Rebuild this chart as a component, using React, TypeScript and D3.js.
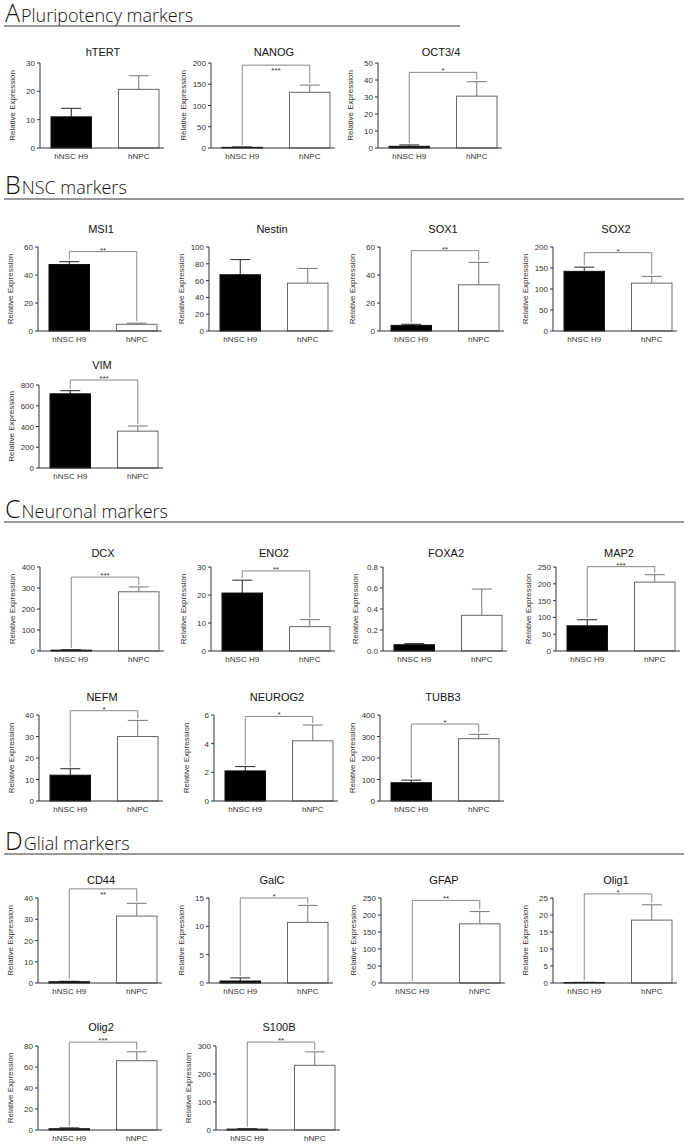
import React from "react";
import * as d3 from "d3";

// ---------- data ----------
const groups = ["hNSC H9", "hNPC"];
const markers = ["hTERT", "NANOG", "OCT3/4", "MSI1", "Nestin", "SOX1", "SOX2", "VIM", "DCX", "ENO2", "FOXA2", "MAP2", "NEFM", "NEUROG2", "TUBB3", "CD44", "GalC", "GFAP", "Olig1", "Olig2", "S100B"];
const meanNSC = [11, 1.5, 1.0, 47.5, 67, 4, 142, 715, 4, 20.7, 0.06, 75, 12, 2.1, 85, 0.6, 0.35, 0, 0.15, 1.2, 3];
const errTopNSC = [14, 2.5, 1.8, 49.5, 85, 4.8, 152, 745, 6, 25.3, 0.07, 93, 15, 2.4, 97, 0.8, 0.9, 0, 0.2, 2, 4.5];
const meanNPC = [20.7, 131, 30.5, 4.8, 57, 33, 114, 355, 282, 8.7, 0.34, 205, 30, 4.2, 290, 31.5, 10.7, 174, 18.5, 66, 231];
const errTopNPC = [25.5, 148, 39, 5.6, 74.5, 49, 130, 405, 305, 11.2, 0.59, 227, 37.5, 5.3, 310, 37.5, 13.7, 210, 23, 74.5, 279];
const yMax = [30, 200, 50, 60, 100, 60, 200, 800, 400, 30, 0.8, 250, 40, 6, 400, 40, 15, 250, 25, 80, 300];
const yStep = [10, 50, 10, 20, 20, 20, 50, 200, 100, 10, 0.2, 50, 10, 2, 100, 10, 5, 50, 5, 20, 100];
const sigLabel = ["", "***", "*", "**", "", "**", "*", "***", "***", "**", "", "***", "*", "*", "*", "**", "*", "**", "*", "***", "**"];
const sigAt = [0, 195, 44.5, 56.7, 0, 57.4, 186.5, 848, 352, 28.6, 0, 251, 42, 5.9, 358, 44.3, 15, 243, 26.2, 83.7, 314];
const sectionLetters = ["A", "B", "C", "D"];
const sectionTitles = ["Pluripotency markers", "NSC markers", "Neuronal markers", "Glial markers"];
const yAxisTitle = "Relative Expression";

// ---------- layout ----------
const rows = [
  { title: 56, top: 63, bottom: 148 },
  { title: 233, top: 247, bottom: 331 },
  { title: 369, top: 385, bottom: 468 },
  { title: 557, top: 567, bottom: 651 },
  { title: 701, top: 715, bottom: 801 },
  { title: 884, top: 898, bottom: 983 },
  { title: 1031, top: 1046, bottom: 1130 },
];
const panelRow = [0, 0, 0, 1, 1, 1, 1, 2, 3, 3, 3, 3, 4, 4, 4, 5, 5, 5, 5, 6, 6];
const panelX = [40, 211, 378, 38, 209, 380, 553, 39, 40, 211, 383, 556, 39, 214, 380, 38, 209, 381, 553, 38, 216];
const starsBelow = [false, true, false, false, false, false, false, false, false, false, false, false, false, false, false, true, false, false, false, false, false];
const headings = [
  { base: 22, line: 26, lineEnd: 460 },
  { base: 194, line: 199, lineEnd: 684 },
  { base: 518, line: 522, lineEnd: 684 },
  { base: 850, line: 854, lineEnd: 684 },
];

const AXW = 124;
const CAP = 20;
const FONT = "'Liberation Sans', Arial, sans-serif";

function Panel({ i }: { i: number }) {
  const r = rows[panelRow[i]];
  const x0 = panelX[i];
  const x = d3.scaleBand().domain(groups).range([x0 + 11, x0 + 119]).paddingInner(0.4).paddingOuter(0);
  const y = d3.scaleLinear().domain([0, yMax[i]]).range([r.bottom, r.top]);
  const ticks = d3.range(0, yMax[i] + yStep[i] / 2, yStep[i]);
  const fmt = yStep[i] < 1 ? d3.format(".1f") : d3.format("d");
  const means = [meanNSC[i], meanNPC[i]];
  const errs = [errTopNSC[i], errTopNPC[i]];
  const cx = (g: string) => (x(g) as number) + x.bandwidth() / 2;
  const bw = x.bandwidth();
  return (
    <g>
      <text x={x0 + 63} y={r.title} textAnchor="middle" fontSize={11} fontFamily={FONT} fill="#111">{markers[i]}</text>
      <text transform={`translate(${x0 - 25},${(r.top + r.bottom) / 2}) rotate(-90)`} textAnchor="middle" fontSize={8} fontFamily={FONT} fill="#333">{yAxisTitle}</text>
      {groups.map((g, k) => {
        const h = Math.max(0, r.bottom - y(means[k]));
        return (
          <g key={g}>
            {errs[k] > means[k] && (
              <g stroke={k === 0 ? "#222" : "#777"} strokeWidth={1}>
                <line x1={cx(g)} x2={cx(g)} y1={y(means[k])} y2={y(errs[k])} />
                <line x1={cx(g) - CAP / 2} x2={cx(g) + CAP / 2} y1={y(errs[k])} y2={y(errs[k])} />
              </g>
            )}
            {means[k] > 0 && (
              <rect x={x(g)} y={y(means[k])} width={bw} height={h} fill={k === 0 ? "#000" : "#fff"} stroke={k === 0 ? "#111" : "#666"} strokeWidth={1} />
            )}
          </g>
        );
      })}
      <line x1={x0} x2={x0} y1={r.top} y2={r.bottom} stroke="#333" strokeWidth={1} />
      <line x1={x0} x2={x0 + AXW} y1={r.bottom} y2={r.bottom} stroke="#333" strokeWidth={1} />
      {ticks.map((t) => (
        <g key={t}>
          <line x1={x0 - 3} x2={x0} y1={y(t)} y2={y(t)} stroke="#333" strokeWidth={1} />
          <text x={x0 - 5} y={y(t) + 3} textAnchor="end" fontSize={8} fontFamily={FONT} fill="#333">{fmt(t)}</text>
        </g>
      ))}
      {groups.map((g) => (
        <text key={g} x={cx(g)} y={r.bottom + 11} textAnchor="middle" fontSize={8} fontFamily={FONT} fill="#333">{g}</text>
      ))}
      {sigLabel[i] && (
        <g>
          <path
            d={`M${cx(groups[0])},${y(errs[0]) - 2}V${y(sigAt[i])}H${cx(groups[1])}V${y(errs[1]) - 2}`}
            fill="none" stroke="#888" strokeWidth={1}
          />
          <text x={(cx(groups[0]) + cx(groups[1])) / 2} y={starsBelow[i] ? y(sigAt[i]) + 8 : y(sigAt[i]) + 1} textAnchor="middle" fontSize={8} fontFamily={FONT} fill="#333">{sigLabel[i]}</text>
        </g>
      )}
    </g>
  );
}

export default function App() {
  return (
    <svg width={688} height={1145} style={{ position: "absolute", left: 0, top: 0, background: "#fff" }}>
      <rect width={688} height={1145} fill="#fff" />
      {headings.map((h, k) => (
        <g key={k}>
          <text x={5} y={h.base} fontFamily="'Open Sans', sans-serif" fontWeight={300} fill="#111">
            <tspan fontSize={25}>{sectionLetters[k]}</tspan>
            <tspan fontSize={18} dx={1}>{sectionTitles[k]}</tspan>
          </text>
          <line x1={4} x2={h.lineEnd} y1={h.line} y2={h.line} stroke="#777" strokeWidth={1.3} />
        </g>
      ))}
      {markers.map((m, i) => (
        <Panel key={m} i={i} />
      ))}
    </svg>
  );
}
